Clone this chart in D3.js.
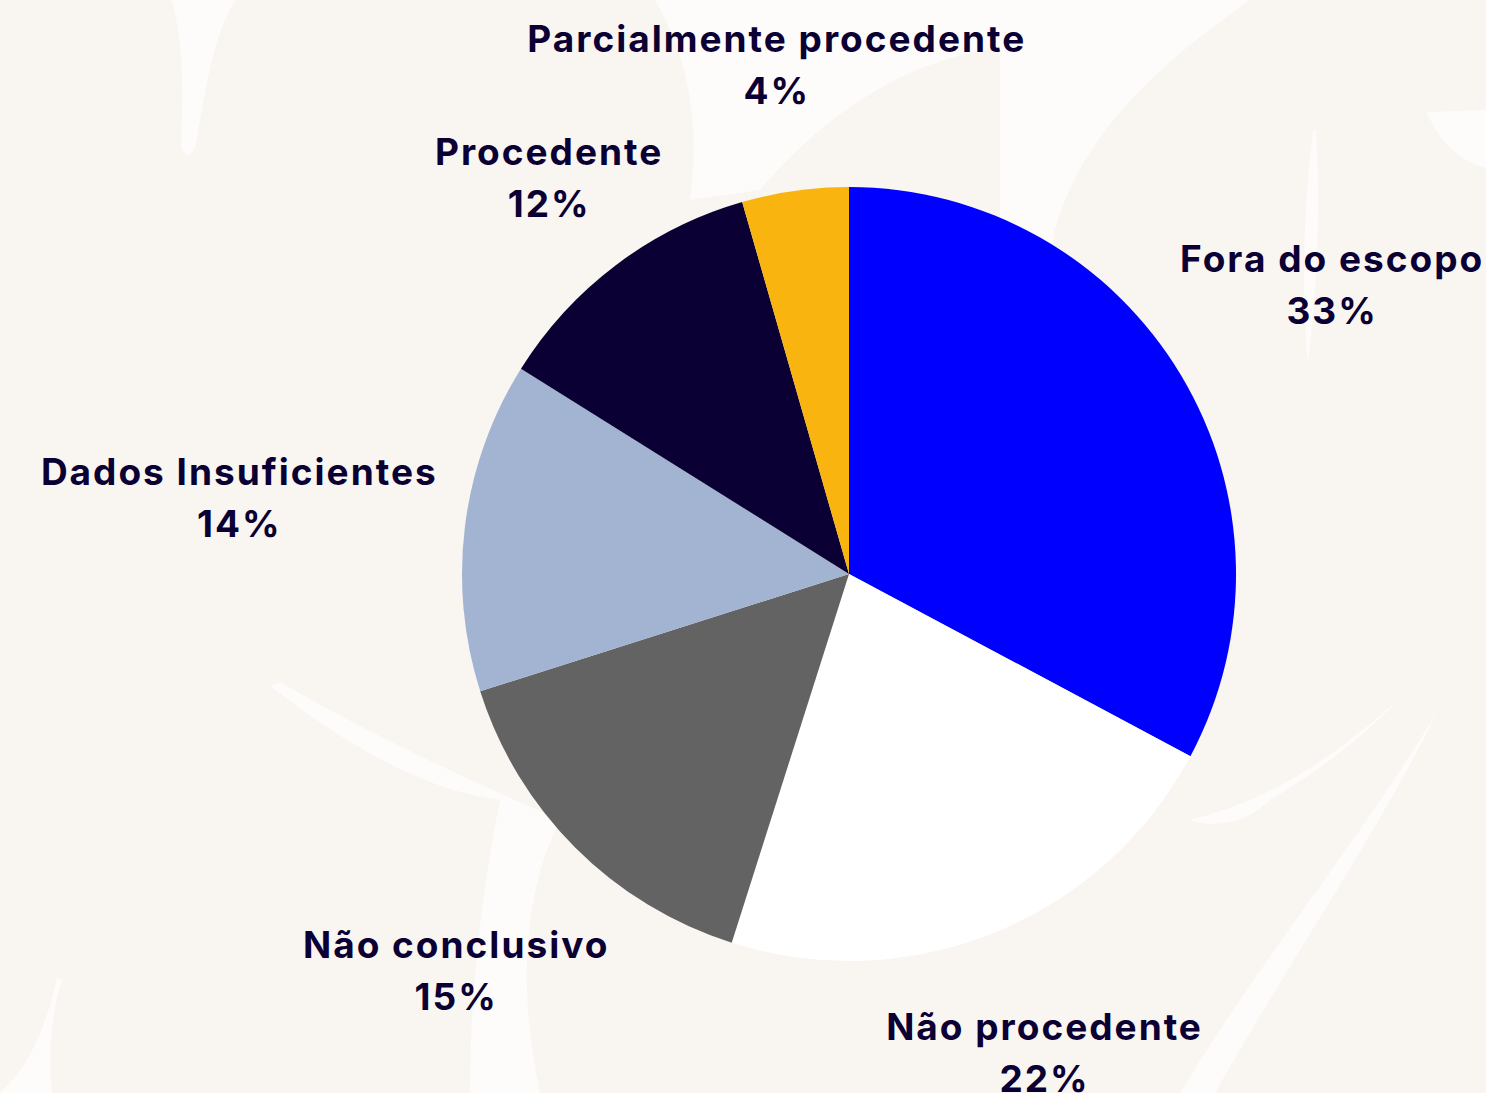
<!DOCTYPE html>
<html>
<head>
<meta charset="utf-8">
<script src="https://cdn.jsdelivr.net/npm/d3@7"></script>
<style>
	html, body { margin: 0; padding: 0; background: #f9f5f1; }
	svg { display: block; }
	.label { font-family: Inter, "DejaVu Sans", sans-serif; font-weight: 700; fill: #0a0033; letter-spacing: 2px; }
</style>
</head>
<body>
<div id="chart"></div>
<script>
	// data
	let categories = ["Fora do escopo", "Não procedente", "Não conclusivo", "Dados Insuficientes", "Procedente", "Parcialmente procedente"];
	let values = [32.8, 22.1, 15.2, 13.8, 11.65, 4.45];
	let colors = ["#0000ff", "#ffffff", "#636363", "#a2b4d2", "#0a0033", "#f9b410"];

	// small label nudges (px) from the common label radius
	let labelNudge = [[20, -24], [-8, -34], [-11, 2], [-74, -21], [25, 22], [3, 13]];

	let width = 1486;
	let height = 1093;
	let cx = 849, cy = 574;
	let radius = 387;
	let labelRadius = 540;

	let svg = d3.select('#chart')
		.append('svg')
		.attr('width', width)
		.attr('height', height);

	svg.append('rect')
		.attr('width', width)
		.attr('height', height)
		.attr('fill', '#f9f5f1');

	// faint background decoration
	let deco = [
		"M172,0 C184,45 183,100 181,148 Q188,162 195,148 C206,92 212,35 236,0 Z",
		"M655,0 C690,60 700,130 690,200 L760,190 C820,120 900,60 1000,48 C1080,40 1170,20 1250,0 Z",
		"M1250,0 C1150,70 1080,140 1055,230 C1040,300 1040,420 1060,520 C1040,420 1010,300 1000,220 L1000,40 Z",
		"M1313,130 C1305,200 1300,280 1308,365 C1318,280 1320,200 1316,130 Z",
		"M1426,112 C1440,140 1455,160 1486,168 L1486,110 Z",
		"M1398,700 C1330,760 1270,800 1190,820 C1220,830 1250,820 1270,800 C1320,770 1360,740 1398,700 Z",
		"M1437,712 C1360,840 1260,960 1180,1093 L1215,1093 C1290,960 1380,830 1437,712 Z",
		"M270,686 C340,740 420,790 500,800 C480,900 470,1000 470,1093 L540,1093 C520,1000 520,900 560,820 C470,780 380,740 280,682 Z",
		"M57,978 C45,1030 30,1065 0,1093 L52,1093 C48,1050 52,1010 62,980 Z"
	];
	svg.append('g')
		.selectAll('path')
		.data(deco)
		.enter()
		.append('path')
		.attr('d', d => d)
		.attr('fill', '#fdfcfa');

	let pie = d3.pie().sort(null).value(d => d);
	let arcs = pie(values);

	let arc = d3.arc().innerRadius(0).outerRadius(radius);
	let labelArc = d3.arc().innerRadius(labelRadius).outerRadius(labelRadius);

	let g = svg.append('g')
		.attr('transform', `translate(${cx},${cy})`);

	g.selectAll('path.slice')
		.data(arcs)
		.enter()
		.append('path')
		.attr('class', 'slice')
		.attr('d', arc)
		.attr('fill', (d, i) => colors[i]);

	let fmt = d3.format(".0f");

	let labels = g.selectAll('text.label')
		.data(arcs)
		.enter()
		.append('text')
		.attr('class', 'label')
		.attr('text-anchor', 'middle')
		.style('font-size', '37px')
		.attr('transform', (d, i) => {
			let c = labelArc.centroid(d);
			return `translate(${c[0] + labelNudge[i][0]},${c[1] + labelNudge[i][1]})`;
		});

	labels.append('tspan')
		.attr('x', 0)
		.attr('y', 0)
		.text((d, i) => categories[i]);

	labels.append('tspan')
		.attr('x', 0)
		.attr('y', 52)
		.text(d => fmt(d.value) + '%');
</script>
</body>
</html>
